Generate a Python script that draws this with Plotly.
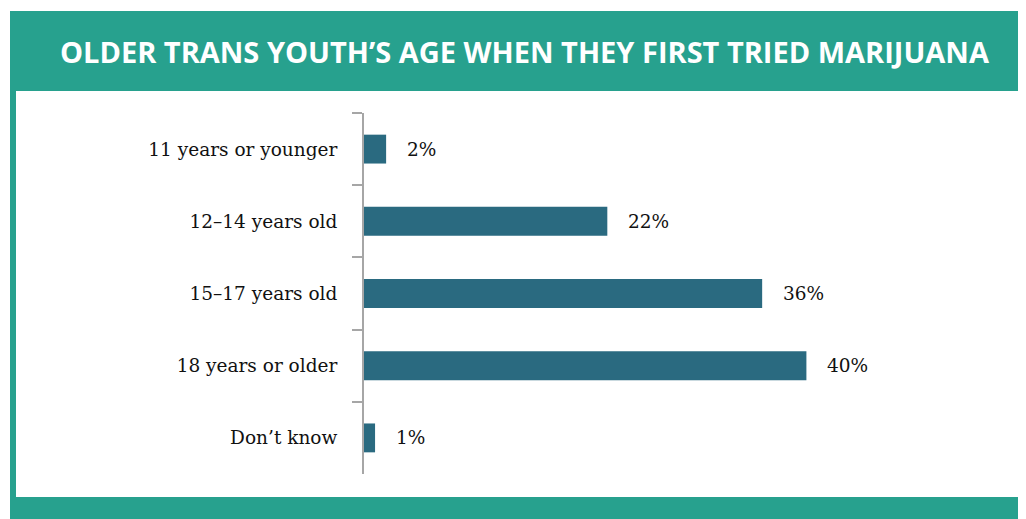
import plotly.graph_objects as go

categorias = ["11 years or younger", "12–14 years old", "15–17 years old",
              "18 years or older", "Don’t know"]
porcentajes = [2, 22, 36, 40, 1]
etiquetas = ["2%", "22%", "36%", "40%", "1%"]

titulo = "OLDER TRANS YOUTH’S AGE WHEN THEY FIRST TRIED MARIJUANA"

ANCHO, ALTO = 1026, 519
OFF = 8  # margen del body de la pagina
M_L, M_R, M_T, M_B = 364 - OFF, 109 + OFF, 113 - OFF, 45 + OFF
TEAL = "#27a18e"
BARRA = "#2a6a80"
SERIF = "DejaVu Serif, Liberation Serif, serif"


def px_x(px):
    # pixel de pantalla -> coordenada paper (horizontal)
    return (px - OFF - M_L) / (ANCHO - M_L - M_R)


def px_y(py):
    # pixel de pantalla -> coordenada paper (vertical, desde arriba)
    return 1 - (py - OFF - M_T) / (ALTO - M_T - M_B)


fig = go.Figure(go.Bar(
    y=categorias,
    x=porcentajes,
    orientation="h",
    marker=dict(color=BARRA, line=dict(width=0)),
    width=0.4,
    hoverinfo="skip",
))

# etiquetas de valor a la derecha de cada barra
for cat, val, txt in zip(categorias, porcentajes, etiquetas):
    fig.add_annotation(x=val, y=cat, text=txt, showarrow=False,
                       xanchor="left", xshift=19,
                       font=dict(family=SERIF, size=18.5, color="#111111"))

# marco turquesa, cabecera y fondo blanco
fig.add_shape(type="rect", xref="paper", yref="paper", layer="below",
              x0=px_x(10), x1=px_x(1040), y0=px_y(530), y1=px_y(11),
              fillcolor=TEAL, line=dict(width=0))
fig.add_shape(type="rect", xref="paper", yref="paper", layer="below",
              x0=px_x(16), x1=px_x(1023), y0=px_y(497), y1=px_y(91),
              fillcolor="white", line=dict(width=0))

fig.add_annotation(xref="paper", yref="paper", x=px_x(525), y=px_y(51),
                   text=f"<b>{titulo}</b>", showarrow=False,
                   xanchor="center", yanchor="middle",
                   font=dict(family="Open Sans, sans-serif", size=29, color="white"))

fig.update_layout(
    width=ANCHO, height=ALTO,
    margin=dict(l=M_L, r=M_R, t=M_T, b=M_B),
    paper_bgcolor="white", plot_bgcolor="rgba(0,0,0,0)",
    showlegend=False,
    xaxis=dict(range=[0, 50], visible=False, fixedrange=True),
    yaxis=dict(
        autorange="reversed",
        showline=True, linecolor="#a6a6a6", linewidth=2,
        ticks="outside", tickson="boundaries", ticklen=10,
        tickcolor="#a6a6a6", tickwidth=2,
        ticklabelstandoff=21,
        tickfont=dict(family=SERIF, size=18.5, color="#111111"),
        showgrid=False, zeroline=False, fixedrange=True,
    ),
)

fig.write_html("out.html")
